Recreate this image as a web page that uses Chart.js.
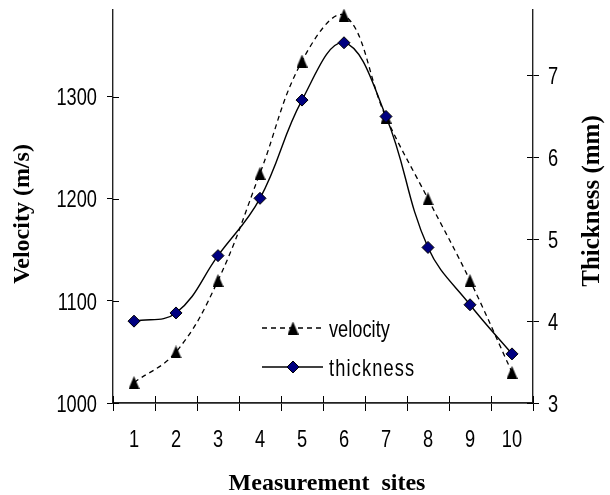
<!DOCTYPE html>
<html>
<head>
<meta charset="utf-8">
<script src="https://cdn.jsdelivr.net/npm/chart.js@4.4.1/dist/chart.umd.min.js"></script>
<style>
  html, body { margin: 0; padding: 0; background: #fff; }
  #wrap { width: 610px; height: 495px; }
</style>
</head>
<body>
<div id="wrap"><canvas id="chart" width="610" height="495"></canvas></div>
<script>
const sites = ['1', '2', '3', '4', '5', '6', '7', '8', '9', '10'];
const velocity = [1020, 1050, 1120, 1225, 1335, 1380, 1280, 1200, 1120, 1030];
const thickness = [4.0, 4.1, 4.8, 5.5, 6.7, 7.4, 6.5, 4.9, 4.2, 3.6];
const velocityTicks = [1000, 1100, 1200, 1300];
const thicknessTicks = [3, 4, 5, 6, 7];

const labelFont = "24px 'Liberation Sans', Arial, sans-serif";
const titleFont = "bold 24px 'Liberation Serif', 'Times New Roman', serif";

// black triangle marker, a bit taller than wide like the original
function makeTriangle() {
  const c = document.createElement('canvas');
  c.width = 11; c.height = 13;
  const g = c.getContext('2d');
  g.fillStyle = '#000';
  g.beginPath();
  g.moveTo(5.5, 0); g.lineTo(11, 13); g.lineTo(0, 13);
  g.closePath();
  g.fill();
  return c;
}
const triangle = makeTriangle();

function drawDiamond(ctx, x, y, r) {
  ctx.beginPath();
  ctx.moveTo(x - r, y); ctx.lineTo(x, y - r); ctx.lineTo(x + r, y); ctx.lineTo(x, y + r);
  ctx.closePath();
  ctx.fillStyle = '#000080';
  ctx.fill();
  ctx.lineWidth = 1;
  ctx.strokeStyle = '#000';
  ctx.stroke();
}

// the original text is squeezed sideways, so labels are drawn narrowed
function narrowText(ctx, text, x, y, align) {
  ctx.save();
  ctx.translate(x, y);
  ctx.scale(0.76, 1);
  ctx.textAlign = align;
  ctx.fillText(text, 0, 0);
  ctx.restore();
}

// crossing tick marks, tick labels, titles and the legend box
const extras = {
  id: 'extras',
  afterDraw(chart) {
    const ctx = chart.ctx;
    const a = chart.chartArea;
    const x = chart.scales.x, yl = chart.scales.y, yr = chart.scales.y1;
    ctx.save();
    ctx.strokeStyle = '#000';
    ctx.lineWidth = 1;
    ctx.beginPath();
    velocityTicks.forEach(v => {
      const p = Math.round(yl.getPixelForValue(v)) + 0.5;
      ctx.moveTo(a.left, p); ctx.lineTo(a.left + 6, p);
    });
    thicknessTicks.forEach(v => {
      const p = Math.round(yr.getPixelForValue(v)) + 0.5;
      ctx.moveTo(a.right - 6, p); ctx.lineTo(a.right, p);
    });
    const step = x.getPixelForValue(1) - x.getPixelForValue(0);
    for (let i = 0; i <= sites.length; i++) {
      const p = Math.round(x.getPixelForValue(0) + (i - 0.5) * step) + 0.5;
      ctx.moveTo(p, a.bottom - 7); ctx.lineTo(p, a.bottom);
    }
    ctx.stroke();

    // tick labels
    ctx.fillStyle = '#000';
    ctx.font = labelFont;
    ctx.textBaseline = 'alphabetic';
    velocityTicks.forEach(v => narrowText(ctx, String(v), a.left - 16, yl.getPixelForValue(v) + 8.6, 'right'));
    thicknessTicks.forEach(v => narrowText(ctx, String(v), a.right + 15, yr.getPixelForValue(v) + 8.6, 'left'));
    sites.forEach((s, i) => narrowText(ctx, s, x.getPixelForValue(i), a.bottom + 44, 'center'));

    // axis titles
    ctx.font = titleFont;
    ctx.textAlign = 'center';
    ctx.textBaseline = 'middle';
    ctx.save();
    ctx.translate(23, 214);
    ctx.rotate(-Math.PI / 2);
    ctx.fillText('Velocity (m/s)', 0, 0);
    ctx.restore();
    ctx.save();
    ctx.font = "bold 25px 'Liberation Serif', 'Times New Roman', serif";
    ctx.translate(593, 201);
    ctx.rotate(-Math.PI / 2);
    ctx.fillText('Thickness (mm)', 0, 0);
    ctx.restore();
    ctx.textBaseline = 'alphabetic';
    ctx.fillText('Measurement  sites', 327, 490);

    // legend
    const lx0 = 262, lx1 = 323, mx = 293, tx = 329;
    const rows = [328, 367];
    ctx.lineWidth = 1.3;
    ctx.setLineDash([5, 4]);
    ctx.beginPath(); ctx.moveTo(lx0, rows[0]); ctx.lineTo(lx1, rows[0]); ctx.stroke();
    ctx.setLineDash([]);
    ctx.drawImage(triangle, mx - triangle.width / 2, rows[0] - triangle.height / 2);
    ctx.beginPath(); ctx.moveTo(lx0, rows[1]); ctx.lineTo(lx1, rows[1]); ctx.stroke();
    drawDiamond(ctx, mx, rows[1], 6);
    ctx.fillStyle = '#000';
    ctx.font = labelFont;
    narrowText(ctx, 'velocity', tx, rows[0] + 8.6, 'left');
    ctx.letterSpacing = '1.5px';
    narrowText(ctx, 'thickness', tx, rows[1] + 8.6, 'left');
    ctx.letterSpacing = '0px';
    ctx.restore();
  }
};

const ctx = document.getElementById('chart').getContext('2d');
const chart = new Chart(ctx, {
  type: 'line',
  data: {
    labels: sites,
    datasets: [
      {
        label: 'thickness',
        data: thickness,
        yAxisID: 'y1',
        borderColor: '#000',
        borderWidth: 1.4,
        tension: 0.4,
        pointStyle: 'rectRot',
        pointRadius: 6,
        pointHoverRadius: 6,
        pointBackgroundColor: '#000080',
        pointBorderColor: '#000',
        pointBorderWidth: 1,
        clip: false
      },
      {
        label: 'velocity',
        data: velocity,
        yAxisID: 'y',
        borderColor: '#000',
        borderWidth: 1.3,
        borderDash: [5, 4],
        tension: 0.4,
        pointStyle: triangle,
        pointRadius: 6,
        clip: false
      }
    ]
  },
  options: {
    responsive: false,
    animation: false,
    devicePixelRatio: 1,
    layout: { padding: { top: 10, left: 0, right: 0, bottom: 0 } },
    plugins: { legend: { display: false }, tooltip: { enabled: false } },
    scales: {
      x: {
        type: 'category',
        offset: true,
        afterFit(s) { s.height = 92; },
        grid: { offset: true, drawOnChartArea: false, color: '#000', tickLength: 8 },
        border: { color: '#222', width: 1.8 },
        ticks: { display: false }
      },
      y: {
        position: 'left',
        min: 1000,
        max: 1385,
        afterFit(s) { s.width = 113; },
        afterBuildTicks(s) { s.ticks = velocityTicks.map(v => ({ value: v })); },
        grid: { drawOnChartArea: false, color: '#000', tickLength: 6 },
        border: { color: '#222', width: 1.4 },
        ticks: { display: false }
      },
      y1: {
        position: 'right',
        min: 3,
        max: 7.8,
        afterFit(s) { s.width = 77; },
        afterBuildTicks(s) { s.ticks = thicknessTicks.map(v => ({ value: v })); },
        grid: { drawOnChartArea: false, color: '#000', tickLength: 6 },
        border: { color: '#222', width: 1.4 },
        ticks: { display: false }
      }
    }
  },
  plugins: [extras]
});
</script>
</body>
</html>
